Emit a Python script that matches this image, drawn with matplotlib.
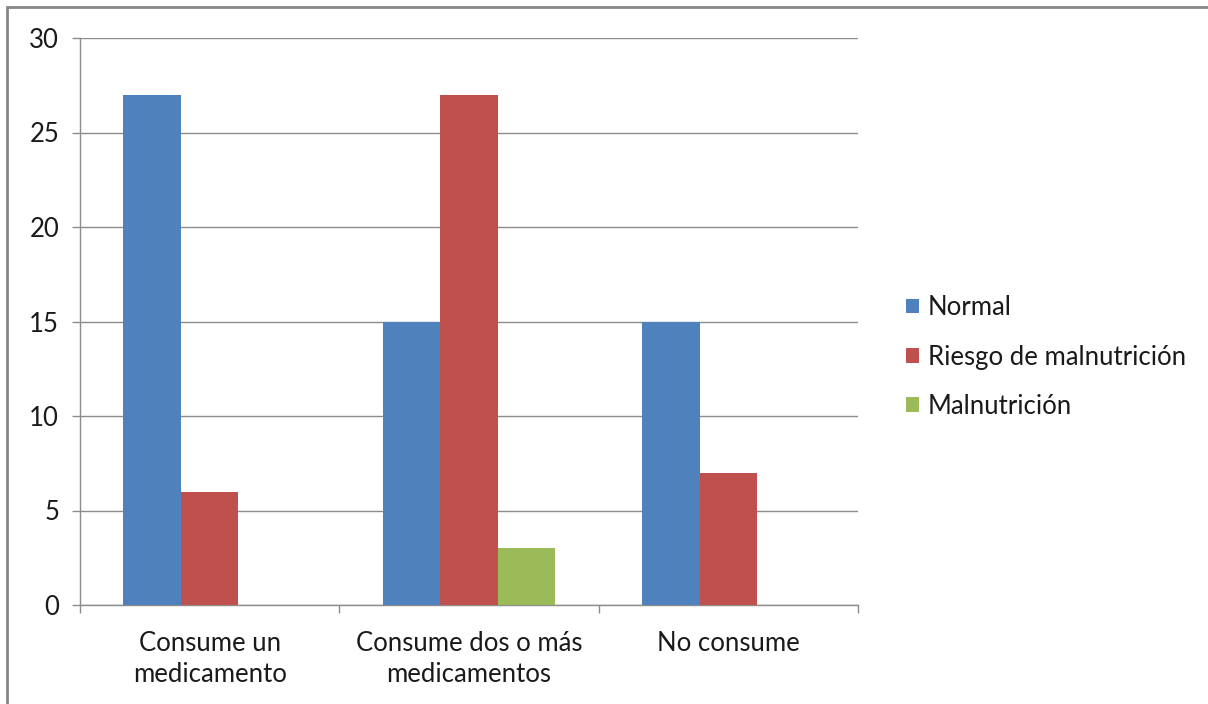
import matplotlib.pyplot as plt
import numpy as np
from matplotlib.patches import Rectangle

categorias = ['Consume un\nmedicamento', 'Consume dos o más\nmedicamentos', 'No consume']
series = ['Normal', 'Riesgo de malnutrición', 'Malnutrición']
normal = [27, 15, 15]
riesgo = [6, 27, 7]
malnutricion = [0, 3, 0]
colores = ['#4F81BD', '#C0504D', '#9BBB59']

plt.rcParams['font.family'] = ['Lato', 'DejaVu Sans']

fig = plt.figure(figsize=(12.08, 7.04), dpi=100)
ax = fig.add_axes([80 / 1208, 1 - 605 / 704, 778 / 1208, 567 / 704])

# marco gris alrededor del gráfico
fig.patches.append(Rectangle((7.5 / 1208, -0.1), 1.2, 1 - 7 / 704 + 0.1,
                             transform=fig.transFigure, fill=False,
                             edgecolor='#888888', linewidth=2))

x = np.arange(len(categorias))
w = 1 / 4.5
for i, (vals, nombre) in enumerate(zip([normal, riesgo, malnutricion], series)):
    ax.bar(x + (i - 1) * w, vals, width=w, color=colores[i], label=nombre, zorder=3)

ax.set_xlim(-0.5, 2.5)
ax.set_ylim(0, 30)
ax.set_yticks(range(0, 31, 5))
ax.yaxis.grid(True, color='#8C8C8C', linewidth=1, zorder=0)

ax.set_xticks([-0.5, 0.5, 1.5, 2.5])
ax.set_xticklabels([])
ax.set_xticks(x, minor=True)
ax.set_xticklabels(categorias, minor=True, fontsize=18.5, color='#1a1a1a', linespacing=1.3)
ax.tick_params(axis='x', which='minor', length=0, pad=19)
ax.tick_params(axis='x', which='major', length=6, color='#8C8C8C', width=1)
ax.tick_params(axis='y', length=6, color='#8C8C8C', width=1, labelsize=18.5,
               labelcolor='#1a1a1a', pad=9)

for s in ['top', 'right']:
    ax.spines[s].set_visible(False)
for s in ['left', 'bottom']:
    ax.spines[s].set_color('#8C8C8C')
    ax.spines[s].set_linewidth(1)

leg = ax.legend(loc='center left', bbox_to_anchor=(883 / 1208, 1 - 357 / 704),
                bbox_transform=fig.transFigure, frameon=False, fontsize=18.5,
                handlelength=0.5, handleheight=0.5, handletextpad=0.35,
                labelspacing=0.95)
for t in leg.get_texts():
    t.set_color('#1a1a1a')

fig.savefig('out.png', dpi=100)
